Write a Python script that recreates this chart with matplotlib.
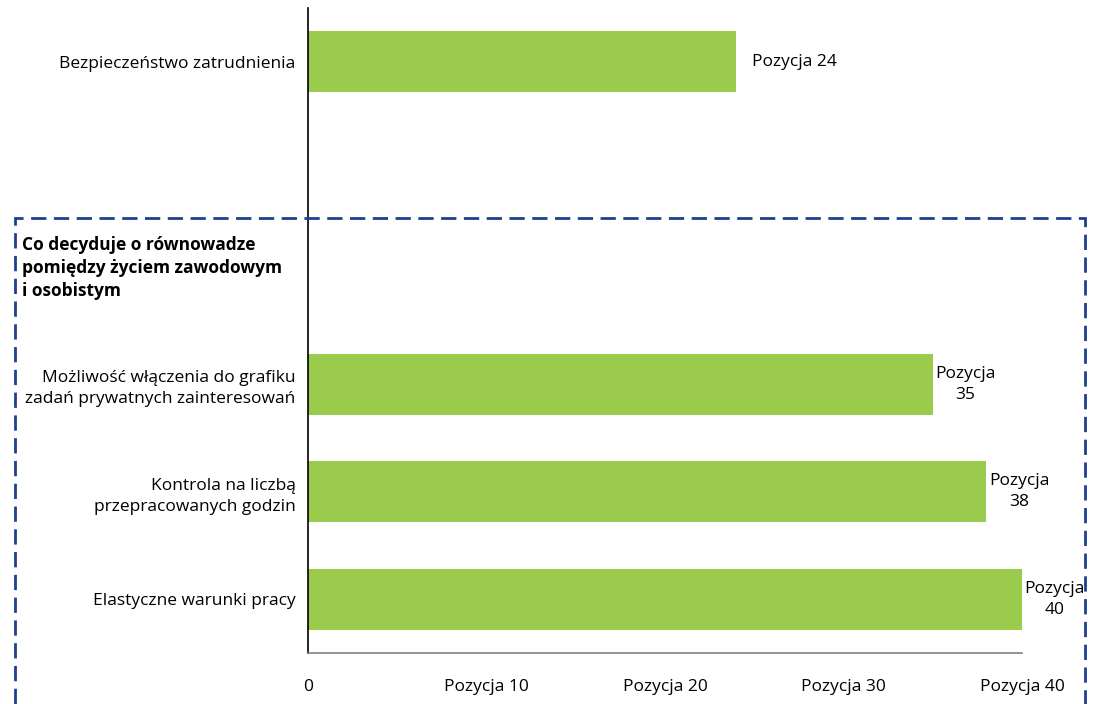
import matplotlib.pyplot as plt
from matplotlib.patches import Rectangle

# rankings (position in the list), bottom to top
factors = ['Elastyczne warunki pracy',
           'Kontrola na liczbą\nprzepracowanych godzin',
           'Możliwość włączenia do grafiku\nzadań prywatnych zainteresowań',
           '', '',
           'Bezpieczeństwo zatrudnienia']
ranks = [40, 38, 35, None, None, 24]
xticks = [0, 10, 20, 30, 40]
xtick_labels = ['0', 'Pozycja 10', 'Pozycja 20', 'Pozycja 30', 'Pozycja 40']
group_title = 'Co decyduje o równowadze\npomiędzy życiem zawodowym\ni osobistym'

plt.rcParams['font.family'] = ['Open Sans', 'DejaVu Sans']
green = '#9BCB4C'
navy = '#1F3F8F'
fs = 12.5

fig = plt.figure(figsize=(10.98, 7.04), dpi=100)
ax = fig.add_axes([308 / 1098, 1 - 653 / 704, (1022 - 308) / 1098, (653 - 8) / 704])

ypos = list(range(len(factors)))
for y, r in zip(ypos, ranks):
    if r is None:
        continue
    ax.barh(y, r, height=0.57, color=green)
    if y == 5:
        ax.text(r + 0.85, y, 'Pozycja %d' % r, va='center', ha='left', fontsize=fs)
    else:
        ax.text(r + 0.15, y, 'Pozycja\n%d' % r, va='center', ha='left',
                multialignment='center', fontsize=fs, linespacing=1.42)

ax.set_xlim(0, 40)
ax.set_ylim(-0.5, 5.5)
ax.set_yticks(ypos)
ax.set_yticklabels(factors, fontsize=fs, linespacing=1.42)
ax.set_xticks(xticks)
ax.set_xticklabels(xtick_labels, fontsize=fs)
ax.tick_params(axis='y', length=0, pad=9)
ax.tick_params(axis='x', length=0, pad=19)
for side in ['top', 'right']:
    ax.spines[side].set_visible(False)
ax.spines['left'].set_color('black')
ax.spines['left'].set_linewidth(1.2)
ax.spines['bottom'].set_color('#7f7f7f')
ax.spines['bottom'].set_linewidth(1.2)

# dashed frame around the work-life balance group
box = Rectangle((15 / 1098, -0.05), (1085 - 15) / 1098, 1 - 218 / 704 + 0.05,
                transform=fig.transFigure, fill=False, edgecolor=navy,
                linewidth=2.0, linestyle=(0, (5.5, 2.7)), clip_on=False)
fig.patches.append(box)
fig.text(22 / 1098, 1 - 268 / 704, group_title, ha='left', va='center',
         fontsize=fs, fontweight='bold', linespacing=1.35)

fig.savefig('out.png', dpi=100)
